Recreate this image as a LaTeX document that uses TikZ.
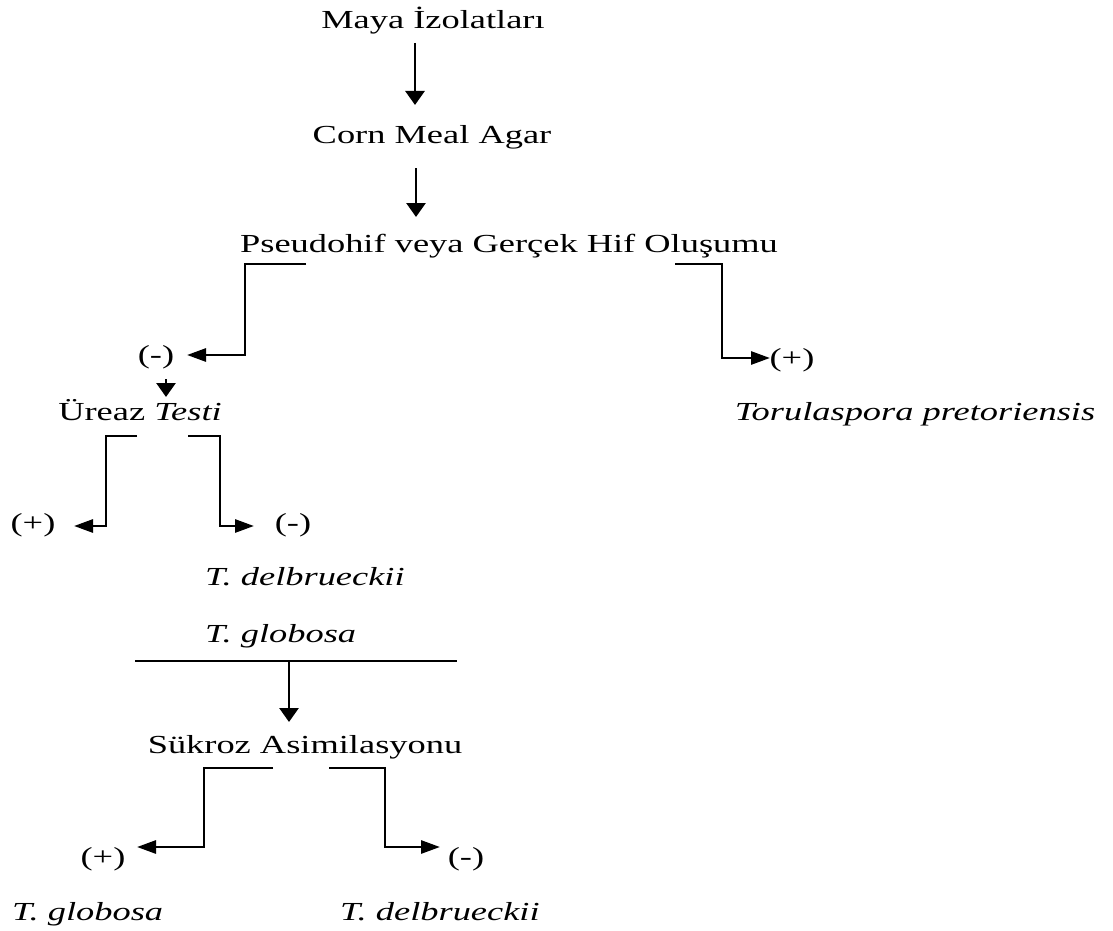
\documentclass[tikz,border=0pt]{standalone}
\usepackage{fontspec}
\setmainfont{Liberation Serif}[FakeStretch=1.4]
\usetikzlibrary{arrows.meta,calc}

\begin{document}
\begin{tikzpicture}[
  x=1pt, y=-1pt,
  lbl/.style={inner sep=0pt, anchor=base, font=\fontsize{26}{30}\selectfont},
  res/.style={inner sep=0pt, anchor=center, font=\fontsize{26}{30}\selectfont},
  link/.style={line width=2.8pt},
  vhead/.style={link, -{Triangle[width=19pt,length=14pt]}},
  hhead/.style={link, -{Triangle[width=13pt,length=19pt]}},
  sepline/.style={line width=1.5pt}
]
\fill[white] (0,0) rectangle (1113,931);
\useasboundingbox (0,0) rectangle (1113,931);

% nodes of the identification key
\node[lbl] (maya)   at (433,29)  {Maya İzolatları};
\node[lbl] (corn)   at (432,143) {Corn Meal Agar};
\node[lbl] (hif)    at (509,252) {Pseudohif veya Gerçek Hif Oluşumu};
\node[res] (hifneg) at (156,357) {(-)};
\node[res] (hifpos) at (792,360) {(+)};
\node[lbl] (ureaz)  at (140,420) {Üreaz \textit{Testi}};
\node[lbl] (torul)  at (915,420) {\textit{Torulaspora pretoriensis}};
\node[res] (urepos) at (33,525)  {(+)};
\node[res] (ureneg) at (293,525) {(-)};
\node[lbl, anchor=base west] (delb) at (205,585) {\textit{T. delbrueckii}};
\node[lbl, anchor=base west] (glob) at (205,642) {\textit{T. globosa}};
\coordinate (sepL) at (135,661);
\coordinate (sepR) at (457,661);
\node[lbl] (suk)    at (305,753) {Sükroz Asimilasyonu};
\node[res] (sukpos) at (103,859) {(+)};
\node[res] (sukneg) at (466,859) {(-)};
\node[lbl, anchor=base west] (globf) at (12,920)  {\textit{T. globosa}};
\node[lbl, anchor=base west] (delbf) at (340,920) {\textit{T. delbrueckii}};

% straight steps
\draw[vhead] ($(maya.base)+(-18,14)$) -- ($(corn.base)+(-17,-38)$);
\draw[vhead] ($(corn.base)+(-16,25)$) -- ($(hif.base)+(-93,-35)$);

% hyphae branches
\draw[hhead] ($(hif.base)+(-203,12)$) -- ++(-61,0) |- ($(hifneg)+(31,-2)$);
\draw[hhead] ($(hif.base)+(166,12)$) -- ++(47,0) |- ($(hifpos)+(-22,-2)$);
\draw[vhead] ($(hifneg)+(10,22)$) -- ($(ureaz.base)+(26,-23)$);

% urease branches
\draw[hhead] ($(ureaz.base)+(-3,16)$) -- ++(-31,0) |- ($(urepos)+(41,1)$);
\draw[hhead] ($(ureaz.base)+(48,16)$) -- ++(32,0) |- ($(ureneg)+(-39,1)$);

% group separator and sucrose test
\draw[sepline] (sepL) -- (sepR);
\draw[vhead] ($(sepL)+(154,0)$) -- ($(suk.base)+(-16,-31)$);

% sucrose branches
\draw[hhead] ($(suk.base)+(-32,15)$) -- ++(-69,0) |- ($(sukpos)+(34,-12)$);
\draw[hhead] ($(suk.base)+(24,15)$) -- ++(56,0) |- ($(sukneg)+(-26,-12)$);
\end{tikzpicture}
\end{document}
